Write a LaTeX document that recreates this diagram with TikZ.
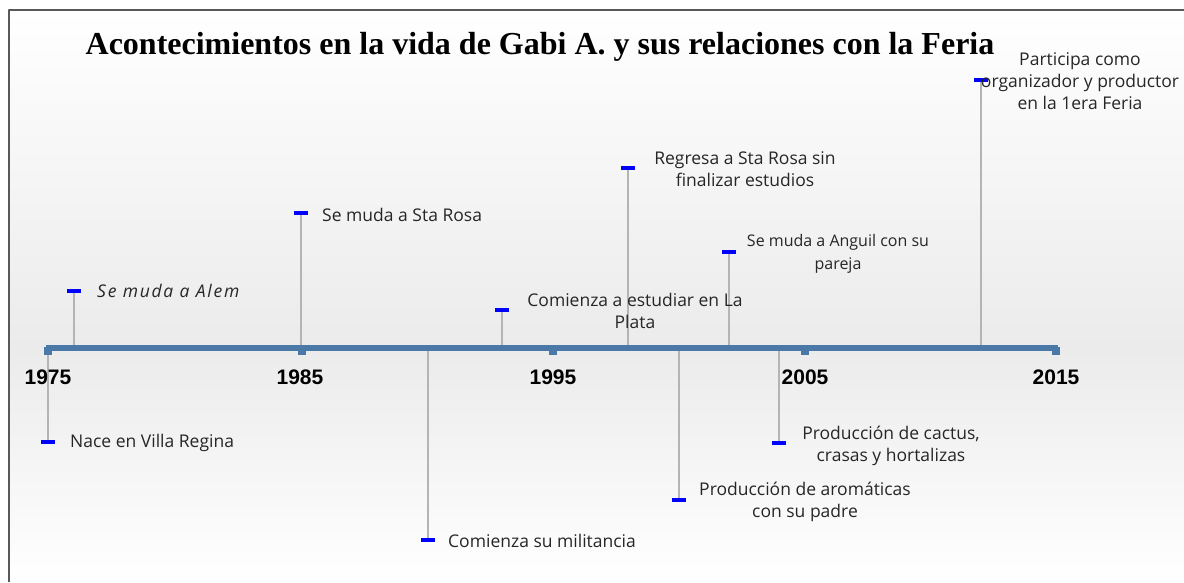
\documentclass[tikz,border=0pt]{standalone}
\usepackage{fontspec}
\setmainfont{Liberation Serif}
\newfontfamily\evfont{Open Sans}
\newfontfamily\evslant[LetterSpace=10]{Open Sans Italic}
\newfontfamily\yrfont{Liberation Sans}
\usetikzlibrary{positioning}
\definecolor{axisblue}{HTML}{4A79A8}
\definecolor{bgmid}{HTML}{EBEBEB}
\definecolor{stemgray}{HTML}{B4B4B4}

\begin{document}
\begin{tikzpicture}[x=1pt,y=-1pt,line join=bevel,
  marker/.style={fill=blue,draw=none,inner sep=0pt,minimum width=14pt,minimum height=4pt},
  tickmark/.style={fill=axisblue,draw=none,inner sep=0pt,minimum width=8pt,minimum height=8pt},
  stem/.style={draw=stemgray,line width=2pt},
  evtext/.style={font=\evfont\fontsize{17.5}{22}\selectfont,align=center,inner sep=0pt,text=black!85},
  yrtext/.style={font=\yrfont\bfseries\fontsize{21}{22}\selectfont,inner sep=0pt},
]
\useasboundingbox (0,0) rectangle (1184,582);
%% background and frame
\shade [top color=white,bottom color=bgmid] (9,10) rectangle (1184,348);
\shade [top color=bgmid,bottom color=white] (9,348) rectangle (1184,582);
\draw [black!65,line width=2pt] (9,582) -- (9,10) -- (1184,10);
%% title
\node (title) at (540,47) [inner sep=0pt] {\bfseries\fontsize{32}{36}\selectfont Acontecimientos en la vida de Gabi A. y sus relaciones con la Feria};
%% stems and markers
\coordinate (b_nace) at (48,348);
\coordinate (b_alem) at (74,348);
\coordinate (b_rosa) at (301,348);
\coordinate (b_milit) at (428,348);
\coordinate (b_plata) at (502,348);
\coordinate (b_regresa) at (628,348);
\coordinate (b_arom) at (679,348);
\coordinate (b_anguil) at (729,348);
\coordinate (b_cactus) at (779,348);
\coordinate (b_feria) at (981,348);
\node (m_nace) at (48,442) [marker] {};
\node (m_alem) at (74,291) [marker] {};
\node (m_rosa) at (301,213) [marker] {};
\node (m_milit) at (428,540) [marker] {};
\node (m_plata) at (502,310) [marker] {};
\node (m_regresa) at (628,168) [marker] {};
\node (m_arom) at (679,500) [marker] {};
\node (m_anguil) at (729,252) [marker] {};
\node (m_cactus) at (779,443) [marker] {};
\node (m_feria) at (981,80) [marker] {};
\draw [stem] (b_nace) -- (m_nace);
\draw [stem] (b_alem) -- (m_alem);
\draw [stem] (b_rosa) -- (m_rosa);
\draw [stem] (b_milit) -- (m_milit);
\draw [stem] (b_plata) -- (m_plata);
\draw [stem] (b_regresa) -- (m_regresa);
\draw [stem] (b_arom) -- (m_arom);
\draw [stem] (b_anguil) -- (m_anguil);
\draw [stem] (b_cactus) -- (m_cactus);
\draw [stem] (b_feria) -- (m_feria);
%% axis
\coordinate (ax_start) at (46,348);
\coordinate (ax_end) at (1058,348);
\node (t_1975) at (48,351) [tickmark] {};
\node (t_1985) at (302,351) [tickmark] {};
\node (t_1995) at (553,351) [tickmark] {};
\node (t_2005) at (805,351) [tickmark] {};
\node (t_2015) at (1056,351) [tickmark] {};
\draw [axisblue,line width=6pt] (ax_start) -- (ax_end);
\node (y_1975) at (48,377) [yrtext] {1975};
\node (y_1985) at (300,377) [yrtext] {1985};
\node (y_1995) at (553,377) [yrtext] {1995};
\node (y_2005) at (805,377) [yrtext] {2005};
\node (y_2015) at (1056,377) [yrtext] {2015};
%% event texts
\node (e_nace) at (70,443) [evtext,anchor=west] {Nace en Villa Regina};
\node (e_alem) at (97,291) [evtext,anchor=west,font=\evslant\fontsize{17.5}{22}\selectfont] {Se muda a Alem};
\node (e_rosa) at (322,215) [evtext,anchor=west] {Se muda a Sta Rosa};
\node (e_milit) at (448,541) [evtext,anchor=west] {Comienza su militancia};
\node (e_plata) at (635,311) [evtext] {Comienza a estudiar en La\\Plata};
\node (e_regresa) at (745,169) [evtext] {Regresa a Sta Rosa sin\\finalizar estudios};
\node (e_arom) at (805,502) [evtext] {Producción de aromáticas\\con su padre};
\node (e_anguil) at (838,254) [evtext,font=\evfont\fontsize{16}{23}\selectfont] {Se muda a Anguil con su\\pareja};
\node (e_cactus) at (891,446) [evtext] {Producción de cactus,\\crasas y hortalizas};
\node (e_feria) at (1080,81) [evtext] {Participa como\\organizador y productor\\en la 1era Feria};
%
\end{tikzpicture}
\end{document}
